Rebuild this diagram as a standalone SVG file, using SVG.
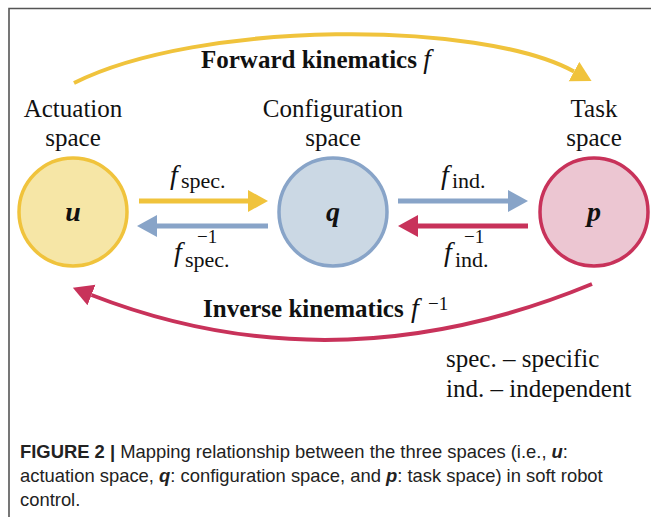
<svg xmlns="http://www.w3.org/2000/svg" width="651" height="517" viewBox="0 0 651 517">
<style>
.lbl{font-family:"Liberation Serif","Times New Roman",serif;font-size:25px;fill:#111;text-anchor:middle}
.bold{font-family:"Liberation Serif","Times New Roman",serif;font-size:25px;font-weight:bold;fill:#111}
.node{font-family:"Liberation Serif","Times New Roman",serif;font-size:28px;font-weight:bold;font-style:italic;fill:#111;text-anchor:middle}
.fn{font-family:"Liberation Serif","Times New Roman",serif;font-style:italic;font-size:28px;fill:#111}
.sub{font-size:22px;font-style:normal}
.sup{font-size:19px;font-style:normal}
.cap{font-family:"Liberation Sans",Arial,sans-serif;font-size:18.4px;fill:#222}
.leg{font-family:"Liberation Serif","Times New Roman",serif;font-size:25px;fill:#111}
</style>
<defs>
<marker id="ay" markerUnits="userSpaceOnUse" markerWidth="22" markerHeight="24" refX="0" refY="11" orient="auto"><path d="M0,0 L20,11 L0,22 z" fill="#f0c33c"/></marker>
<marker id="ab" markerUnits="userSpaceOnUse" markerWidth="22" markerHeight="24" refX="0" refY="11" orient="auto"><path d="M0,0 L20,11 L0,22 z" fill="#88a4c8"/></marker>
<marker id="ar" markerUnits="userSpaceOnUse" markerWidth="22" markerHeight="24" refX="0" refY="11" orient="auto"><path d="M0,0 L20,11 L0,22 z" fill="#c8325a"/></marker>
</defs>
<rect width="651" height="517" fill="#fff"/>
<path d="M9,517 V8.5 H651" fill="none" stroke="#555" stroke-width="1.6"/>

<g id="connectors" fill="none">
<path d="M74,83 C200,20 480,20 574,71.5" stroke="#f0c33c" stroke-width="4" marker-end="url(#ay)"/>
<path d="M592,284 Q335,390 91.5,295" stroke="#c8325a" stroke-width="4" marker-end="url(#ar)"/>
<path d="M139,201 H248" stroke="#f0c33c" stroke-width="5" marker-end="url(#ay)"/>
<path d="M268,226 H157" stroke="#88a4c8" stroke-width="5" marker-end="url(#ab)"/>
<path d="M398,201 H508" stroke="#88a4c8" stroke-width="5" marker-end="url(#ab)"/>
<path d="M528,226 H418" stroke="#c8325a" stroke-width="5" marker-end="url(#ar)"/>
</g>

<g id="node-u">
<circle cx="73" cy="212" r="54" fill="#f6e6a6" stroke="#f0c33c" stroke-width="3.5"/>
<text class="node" x="73" y="221">u</text>
<text class="lbl" x="73" y="117">Actuation</text>
<text class="lbl" x="73" y="146">space</text>
</g>
<g id="node-q">
<circle cx="333" cy="212" r="54" fill="#cbd8e4" stroke="#88a4c8" stroke-width="3.5"/>
<text class="node" x="333" y="221">q</text>
<text class="lbl" x="333" y="117">Configuration</text>
<text class="lbl" x="333" y="146">space</text>
</g>
<g id="node-p">
<circle cx="594" cy="212" r="54" fill="#ecc6d2" stroke="#c8325a" stroke-width="3.5"/>
<text class="node" x="594" y="221">p</text>
<text class="lbl" x="594" y="117">Task</text>
<text class="lbl" x="594" y="146">space</text>
</g>

<g id="labels">
<text class="bold" x="201" y="68">Forward kinematics <tspan font-style="italic" font-weight="normal" font-size="27">f</tspan></text>
<text class="bold" x="203" y="317">Inverse kinematics<tspan class="fn" x="411" y="317" font-weight="normal">f</tspan><tspan class="sup" x="428" y="310" font-weight="normal" font-size="20">−1</tspan></text>
<text class="fn" x="170" y="184">f<tspan class="sub" x="181" y="188">spec.</tspan></text>
<text class="fn" x="174" y="261">f<tspan class="sup" x="197" y="243">−1</tspan><tspan class="sub" x="185" y="267">spec.</tspan></text>
<text class="fn" x="441" y="184">f<tspan class="sub" x="452" y="188">ind.</tspan></text>
<text class="fn" x="444" y="261">f<tspan class="sup" x="464" y="243">−1</tspan><tspan class="sub" x="455" y="267">ind.</tspan></text>
<text class="leg" x="446" y="367">spec. – specific</text>
<text class="leg" x="446" y="397">ind. – independent</text>
</g>

<g id="caption">
<text class="cap" x="20" y="458"><tspan font-weight="bold">FIGURE 2 |</tspan> Mapping relationship between the three spaces (i.e., <tspan font-weight="bold" font-style="italic">u</tspan>:</text>
<text class="cap" x="20" y="482">actuation space, <tspan font-weight="bold" font-style="italic">q</tspan>: configuration space, and <tspan font-weight="bold" font-style="italic">p</tspan>: task space) in soft robot</text>
<text class="cap" x="20" y="506">control.</text>
</g>
</svg>
